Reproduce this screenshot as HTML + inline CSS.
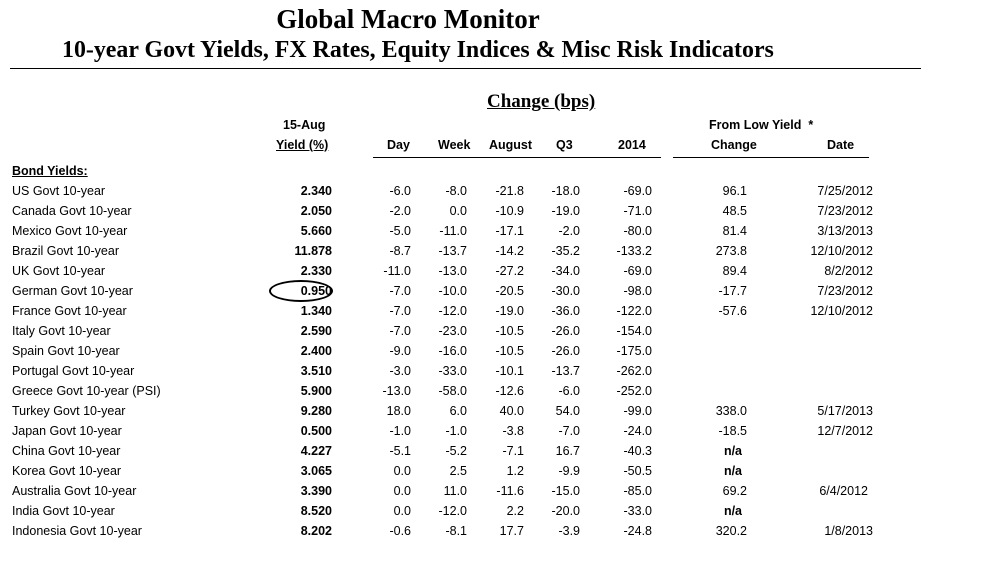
<!DOCTYPE html>
<html><head><style>
body{margin:0;width:981px;height:561px;background:#fff;position:relative;overflow:hidden;font-family:"Liberation Sans",sans-serif;font-size:12.5px;color:#000}
.a{position:absolute;white-space:nowrap;line-height:14px}
.r{text-align:right}
.b{font-weight:bold}
.s{font-family:"Liberation Serif",serif;font-weight:bold}
</style></head><body>
<div class="a s" style="left:0;width:816px;text-align:center;top:4px;font-size:27px;line-height:30px">Global Macro Monitor</div>
<div class="a s" style="left:62px;top:36px;font-size:23.9px;line-height:28px">10-year Govt Yields, FX Rates, Equity Indices &amp; Misc Risk Indicators</div>
<div style="position:absolute;left:10px;top:68px;width:911px;height:1px;background:#000"></div>
<div class="a s" style="left:487px;top:92px;font-size:19px;line-height:20px;text-decoration:underline">Change (bps) </div>
<div class="a b" style="left:283px;top:118px">15-Aug</div>
<div class="a b" style="left:276px;top:138px;text-decoration:underline">Yield (%)</div>
<div class="a b" style="left:387px;top:138px">Day</div>
<div class="a b" style="left:438px;top:138px">Week</div>
<div class="a b" style="left:489px;top:138px">August</div>
<div class="a b" style="left:556px;top:138px">Q3</div>
<div class="a b" style="left:618px;top:138px">2014</div>
<div class="a b" style="left:709px;top:118px">From Low Yield &nbsp;*</div>
<div class="a b" style="left:711px;top:138px">Change</div>
<div class="a b" style="left:827px;top:138px">Date</div>
<div style="position:absolute;left:373px;top:157px;width:288px;height:1px;background:#000"></div>
<div style="position:absolute;left:673px;top:157px;width:196px;height:1px;background:#000"></div>
<div class="a b" style="left:12px;top:164px;text-decoration:underline">Bond Yields:</div>
<div style="position:absolute;left:269px;top:280px;width:64px;height:22px;border:2px solid #000;border-radius:50%;box-sizing:border-box"></div>
<div id="rows"></div>
<script>
var d=[
["US Govt 10-year","2.340","-6.0","-8.0","-21.8","-18.0","-69.0","96.1","7/25/2012"],
["Canada Govt 10-year","2.050","-2.0","0.0","-10.9","-19.0","-71.0","48.5","7/23/2012"],
["Mexico Govt 10-year","5.660","-5.0","-11.0","-17.1","-2.0","-80.0","81.4","3/13/2013"],
["Brazil Govt 10-year","11.878","-8.7","-13.7","-14.2","-35.2","-133.2","273.8","12/10/2012"],
["UK Govt 10-year","2.330","-11.0","-13.0","-27.2","-34.0","-69.0","89.4","8/2/2012"],
["German Govt 10-year","0.950","-7.0","-10.0","-20.5","-30.0","-98.0","-17.7","7/23/2012"],
["France Govt 10-year","1.340","-7.0","-12.0","-19.0","-36.0","-122.0","-57.6","12/10/2012"],
["Italy Govt 10-year","2.590","-7.0","-23.0","-10.5","-26.0","-154.0","",""],
["Spain Govt 10-year","2.400","-9.0","-16.0","-10.5","-26.0","-175.0","",""],
["Portugal Govt 10-year","3.510","-3.0","-33.0","-10.1","-13.7","-262.0","",""],
["Greece Govt 10-year (PSI)","5.900","-13.0","-58.0","-12.6","-6.0","-252.0","",""],
["Turkey Govt 10-year","9.280","18.0","6.0","40.0","54.0","-99.0","338.0","5/17/2013"],
["Japan Govt 10-year","0.500","-1.0","-1.0","-3.8","-7.0","-24.0","-18.5","12/7/2012"],
["China Govt 10-year","4.227","-5.1","-5.2","-7.1","16.7","-40.3","n/a",""],
["Korea Govt 10-year","3.065","0.0","2.5","1.2","-9.9","-50.5","n/a",""],
["Australia Govt 10-year","3.390","0.0","11.0","-11.6","-15.0","-85.0","69.2","6/4/2012"],
["India Govt 10-year","8.520","0.0","-12.0","2.2","-20.0","-33.0","n/a",""],
["Indonesia Govt 10-year","8.202","-0.6","-8.1","17.7","-3.9","-24.8","320.2","1/8/2013"]];
var rights=[332,411,467,524,580,652,747,873],h="";
d.forEach(function(r,i){var t=184+i*20;
h+='<div class="a" style="left:12px;top:'+t+'px">'+r[0]+'</div>';
for(var j=1;j<9;j++){if(!r[j])continue;var cls="a r"+(j==1||r[j]=="n/a"?" b":"");var rt=rights[j-1];
if(r[j]=="n/a")rt=742; if(r[j]=="6/4/2012")rt=868;
h+='<div class="'+cls+'" style="right:'+(981-rt)+'px;top:'+t+'px">'+r[j]+'</div>';}});
document.getElementById("rows").innerHTML=h;
</script>
</body></html>
